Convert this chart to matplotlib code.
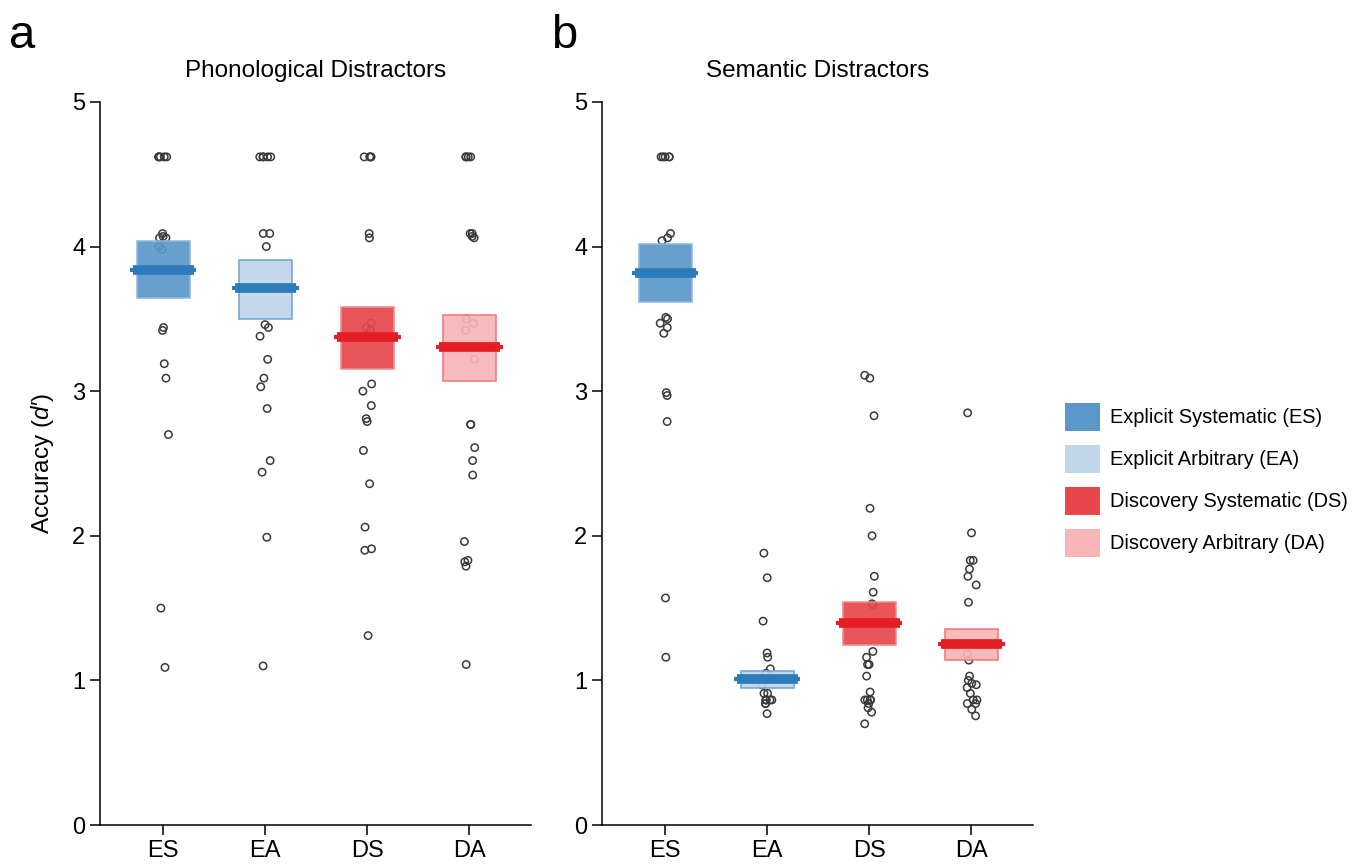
import numpy as np
import matplotlib
matplotlib.use("Agg")
import matplotlib.pyplot as plt
from matplotlib.patches import Patch

plt.rcParams['font.family'] = ['Liberation Sans', 'DejaVu Sans']
plt.rcParams['mathtext.fontset'] = 'custom'
plt.rcParams['mathtext.it'] = 'Liberation Sans:italic'
plt.rcParams['mathtext.rm'] = 'Liberation Sans'

groups = ['ES', 'EA', 'DS', 'DA']
group_names = ['Explicit Systematic (ES)', 'Explicit Arbitrary (EA)',
               'Discovery Systematic (DS)', 'Discovery Arbitrary (DA)']

# phonological distractors: mean, box top/bottom, individual d'
phon_mean = [3.84, 3.71, 3.375, 3.305]
phon_hi = [4.04, 3.91, 3.58, 3.53]
phon_lo = [3.645, 3.50, 3.15, 3.07]
phon_es = [4.62, 4.62, 4.62, 4.62, 4.62, 4.09, 4.07, 4.06, 4.06, 4.0, 3.98,
           3.44, 3.42, 3.19, 3.09, 2.70, 1.50, 1.09]
phon_ea = [4.62, 4.62, 4.62, 4.62, 4.62, 4.09, 4.09, 4.0, 3.46, 3.44, 3.38,
           3.22, 3.09, 3.03, 2.88, 2.52, 2.44, 1.99, 1.10]
phon_ds = [4.62, 4.62, 4.62, 4.62, 4.09, 4.06, 3.47, 3.44, 3.42, 3.05, 3.0,
           2.90, 2.81, 2.79, 2.59, 2.36, 2.06, 1.91, 1.90, 1.31]
phon_da = [4.62, 4.62, 4.62, 4.62, 4.07, 4.09, 4.09, 4.06, 3.50, 3.47, 3.42,
           3.22, 2.77, 2.77, 2.61, 2.52, 2.42, 1.96, 1.83, 1.82, 1.79, 1.11]

# semantic distractors
sem_mean = [3.82, 1.01, 1.40, 1.25]
sem_hi = [4.02, 1.065, 1.54, 1.355]
sem_lo = [3.62, 0.947, 1.245, 1.14]
sem_es = [4.62, 4.62, 4.62, 4.62, 4.62, 4.09, 4.06, 4.04, 3.51, 3.50, 3.47,
          3.44, 3.40, 2.99, 2.97, 2.79, 1.57, 1.16]
sem_ea = [1.88, 1.71, 1.41, 1.19, 1.16, 1.08, 1.05, 0.97, 0.91, 0.91, 0.865,
          0.865, 0.865, 0.865, 0.865, 0.84, 0.84, 0.77]
sem_ds = [3.11, 3.09, 2.83, 2.19, 2.0, 1.72, 1.61, 1.53, 1.52, 1.20, 1.16,
          1.11, 1.11, 1.03, 0.92, 0.865, 0.865, 0.865, 0.865, 0.84, 0.81,
          0.78, 0.70]
sem_da = [2.85, 2.02, 1.83, 1.83, 1.77, 1.72, 1.66, 1.54, 1.18, 1.14, 1.03,
          1.0, 0.98, 0.97, 0.95, 0.91, 0.865, 0.84, 0.865, 0.84, 0.80, 0.755]

box_colors = ['#5b97c8', '#bfd5ea', '#e8474c', '#f7b5b6']
edge_colors = ['#8db8dd', '#6ea3d2', '#f08a8d', '#ee7479']
line_colors = ['#2e7bbc', '#2e7bbc', '#e31e25', '#e31e25']

rng = np.random.default_rng(3)


def draw_panel(ax, title, means, his, los, points):
    for i in range(len(groups)):
        vals = np.array(points[i])
        xs = i + rng.uniform(-0.055, 0.055, len(vals))
        ax.scatter(xs, vals, s=28, facecolors='none', edgecolors='#3a3a3a',
                   linewidths=1.1, zorder=1)
        ax.bar(i, his[i] - los[i], bottom=los[i], width=0.52,
               color=box_colors[i], edgecolor=edge_colors[i], linewidth=1.2,
               alpha=0.92, zorder=2)
        ax.plot([i - 0.325, i + 0.325], [means[i], means[i]],
                color=line_colors[i], lw=3, solid_capstyle='butt', zorder=3)
        ax.plot([i - 0.3, i + 0.3], [means[i], means[i]],
                color=line_colors[i], lw=7, solid_capstyle='butt', zorder=3)
    ax.set_xlim(-0.62, 3.6)
    ax.set_ylim(0, 5)
    ax.set_xticks(range(len(groups)))
    ax.set_xticklabels(groups)
    ax.set_yticks([0, 1, 2, 3, 4, 5])
    ax.spines['top'].set_visible(False)
    ax.spines['right'].set_visible(False)
    for s in ['left', 'bottom']:
        ax.spines[s].set_linewidth(1.1)
    ax.tick_params(direction='out', length=7, width=1.1, labelsize=17)
    ax.set_title(title, fontsize=17.5, pad=18)


fig = plt.figure(figsize=(13.54, 8.66), dpi=100)
ax1 = fig.add_axes([0.0739, 0.0473, 0.318, 0.835])
ax2 = fig.add_axes([0.4446, 0.0473, 0.318, 0.835])

draw_panel(ax1, 'Phonological Distractors', phon_mean, phon_hi, phon_lo,
           [phon_es, phon_ea, phon_ds, phon_da])
draw_panel(ax2, 'Semantic Distractors', sem_mean, sem_hi, sem_lo,
           [sem_es, sem_ea, sem_ds, sem_da])

ax1.set_ylabel("Accuracy ($d$\u2032)", fontsize=17.5, labelpad=12)

fig.text(0.007, 0.945, 'a', fontsize=34)
fig.text(0.407, 0.945, 'b', fontsize=34)

handles = [Patch(facecolor=c, edgecolor='none') for c in box_colors]
fig.legend(handles, group_names, loc='center left', bbox_to_anchor=(0.776, 0.446),
           frameon=False, fontsize=14.4, handlelength=1.75, handleheight=1.75,
           labelspacing=0.72, handletextpad=0.5, borderpad=0.2)

fig.savefig('out.png', dpi=100)
